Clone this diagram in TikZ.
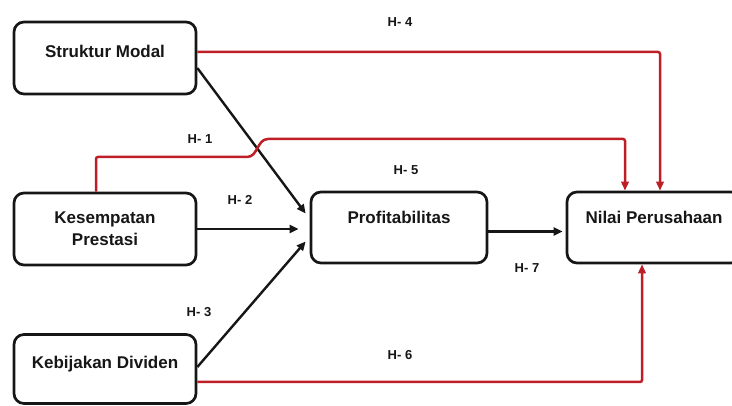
\documentclass[tikz,border=0pt]{standalone}
\usepackage{fontspec}
\setmainfont{Liberation Sans}
\usepackage{tikz}
\usetikzlibrary{calc}
\usetikzlibrary{arrows.meta}
\definecolor{hred}{RGB}{190,30,38}
\definecolor{hblack}{RGB}{22,22,22}
\newcommand{\hyp}[3]{\node[hyplab] (#1) at (#2) {H- #3};}

\begin{document}
\begin{tikzpicture}[x=1pt, y=-1pt,
    factor/.style={draw=hblack, line width=2.7pt, rounded corners=10pt, minimum width=182pt, minimum height=72pt, inner sep=0pt, font=\bfseries\fontsize{17}{22}\selectfont, text=hblack, align=center},
    oneline/.style={text height=12pt, text depth=#1},
    hyplab/.style={font=\bfseries\fontsize{13}{15}\selectfont, text=hblack},
    blackarrow/.style={draw=hblack, line width=2.4pt, -{Triangle[length=9pt,width=8pt]}},
    redarrow/.style={draw=hred, line width=2.5pt, rounded corners=2pt, -{Triangle[length=9pt,width=7.5pt]}}]
        \useasboundingbox (0,0) rectangle (732,406);
        % variables
        \node[factor, oneline=12pt] (sm) at (105,58) {Struktur Modal};
        \node[factor] (kp) at (105,229) {Kesempatan\\Prestasi};
        \node[factor, oneline=13pt, minimum height=69pt] (kd) at (105,369) {Kebijakan Dividen};
        \node[factor, oneline=19pt, minimum width=176pt, minimum height=71pt] (pr) at (399,227.5) {Profitabilitas};
        \node[factor, oneline=19pt, minimum width=174pt, minimum height=71pt] (np) at (654,227.5) {Nilai Perusahaan};
        % black paths
        \draw[blackarrow] ([yshift=-10pt]sm.east) -- ([xshift=-4pt,yshift=14pt]pr.west);
        \draw[blackarrow] (kp.east) -- ([xshift=-11pt]kp.east -| pr.west);
        \draw[blackarrow] ([yshift=2pt]kd.east) -- ([xshift=-4pt,yshift=-14pt]pr.west);
        \draw[blackarrow] ([yshift=-4pt]pr.east) -- ([xshift=-3pt,yshift=-4pt]np.west);
        % red paths
        \coordinate (b1) at (245,157);
        \coordinate (b2) at (270,139);
        \draw[redarrow] ([yshift=6pt]sm.east) -| ([xshift=6pt]np.north);
        \draw[redarrow] ([xshift=-9pt]kp.north) |- (b1) .. controls (258,157) and (257,139) .. (b2) -| ([xshift=-29pt]np.north);
        \draw[redarrow] ([yshift=-13pt]kd.east) -| ([xshift=-12pt]np.south);
        % hypotheses
        \hyp{h1}{200,139}{1}
        \hyp{h2}{240,200}{2}
        \hyp{h3}{199,312}{3}
        \hyp{h4}{400,22}{4}
        \hyp{h5}{406,170}{5}
        \hyp{h6}{400,355}{6}
        \hyp{h7}{527,268}{7}
    \end{tikzpicture}
\end{document}
